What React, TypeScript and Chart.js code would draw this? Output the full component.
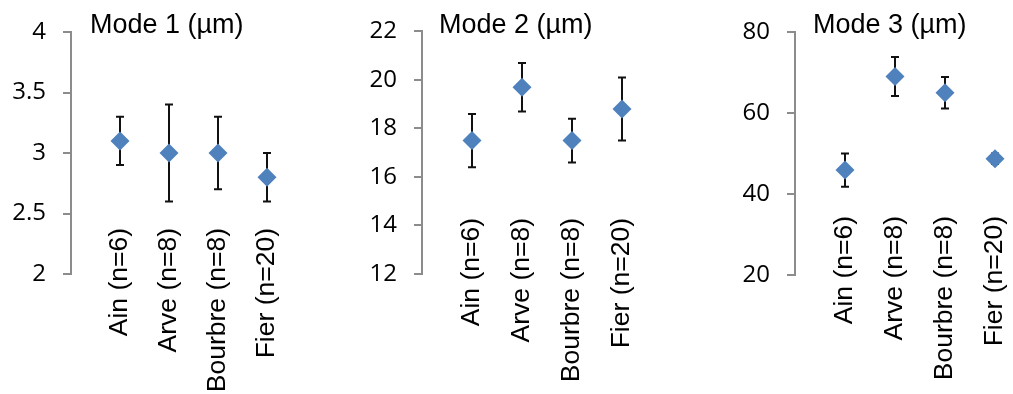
import React, { useEffect, useRef } from 'react';
import { Chart, registerables } from 'chart.js';

Chart.register(...registerables);

// ---------- data ----------
const categories = ['Ain (n=6)', 'Arve (n=8)', 'Bourbre (n=8)', 'Fier (n=20)'];

const mode1Title = 'Mode 1 (µm)';
const mode1Values = [3.1, 3.0, 3.0, 2.8];
const mode1Errors = [0.2, 0.4, 0.3, 0.2];
const mode1Ticks = [2, 2.5, 3, 3.5, 4];

const mode2Title = 'Mode 2 (µm)';
const mode2Values = [17.5, 19.7, 17.5, 18.8];
const mode2Errors = [1.1, 1.0, 0.9, 1.3];
const mode2Ticks = [12, 14, 16, 18, 20, 22];

const mode3Title = 'Mode 3 (µm)';
const mode3Values = [45.9, 69.0, 65.0, 48.7];
const mode3Errors = [4.1, 4.8, 3.9, 1.3];
const mode3Ticks = [20, 40, 60, 80];

// ---------- layout / style ----------
const H = 394;
const MARKER = '#4F81BD';
const AXIS = '#8c8c8c';
const LABEL_FONT = "'Liberation Sans', Arial, sans-serif";
const TICK_FONT = "'Open Sans', sans-serif";

type PanelCfg = {
  title: string;
  values: number[];
  errors: number[];
  ticks: number[];
  left: number;
  width: number;
  axisWidth: number;
  top: number;
  bottom: number;
  padRight: number;
  labelTop: number;
  titleOffset: number;
};

const panels: PanelCfg[] = [
  { title: mode1Title, values: mode1Values, errors: mode1Errors, ticks: mode1Ticks,
    left: 0, width: 338, axisWidth: 71, top: 32, bottom: 274, padRight: 71, labelTop: 228, titleOffset: 19 },
  { title: mode2Title, values: mode2Values, errors: mode2Errors, ticks: mode2Ticks,
    left: 340, width: 335, axisWidth: 82, top: 31, bottom: 274, padRight: 53, labelTop: 218, titleOffset: 17 },
  { title: mode3Title, values: mode3Values, errors: mode3Errors, ticks: mode3Ticks,
    left: 675, width: 338, axisWidth: 120, top: 32, bottom: 275, padRight: 18, labelTop: 216, titleOffset: 18 },
];

function Panel({ cfg }: { cfg: PanelCfg }) {
  const ref = useRef<HTMLCanvasElement>(null);

  useEffect(() => {
    const canvas = ref.current!;
    const labels = ['', ...categories];
    const data = [null, ...cfg.values];
    const errs = [null, ...cfg.errors];

    const errorBars = {
      id: 'errorBars',
      beforeDatasetsDraw(chart: any) {
        const ctx = chart.ctx;
        const xs = chart.scales.x;
        const ys = chart.scales.y;
        ctx.save();
        ctx.strokeStyle = '#111';
        ctx.lineWidth = 2;
        for (let i = 0; i < data.length; i++) {
          const v = data[i];
          const e = errs[i];
          if (v == null || e == null) continue;
          const x = xs.getPixelForValue(i);
          const yt = ys.getPixelForValue(v + e);
          const yb = ys.getPixelForValue(v - e);
          ctx.beginPath();
          ctx.moveTo(x, yt);
          ctx.lineTo(x, yb);
          ctx.moveTo(x - 4, yt);
          ctx.lineTo(x + 4, yt);
          ctx.moveTo(x - 4, yb);
          ctx.lineTo(x + 4, yb);
          ctx.stroke();
        }
        ctx.restore();
      },
    };

    const textPlugin = {
      id: 'panelText',
      afterDraw(chart: any) {
        const ctx = chart.ctx;
        const xs = chart.scales.x;
        ctx.save();
        ctx.fillStyle = '#000';
        // title
        ctx.font = `27px ${LABEL_FONT}`;
        ctx.textAlign = 'left';
        ctx.textBaseline = 'alphabetic';
        ctx.fillText(cfg.title, chart.chartArea.left + cfg.titleOffset, 33);
        // rotated category labels
        ctx.font = `26.5px ${LABEL_FONT}`;
        ctx.textAlign = 'right';
        ctx.textBaseline = 'middle';
        labels.forEach((lab, i) => {
          if (!lab) return;
          const x = xs.getPixelForValue(i);
          ctx.save();
          ctx.translate(x, cfg.labelTop);
          ctx.rotate(-Math.PI / 2);
          ctx.fillText(lab, 0, 0);
          ctx.restore();
        });
        ctx.restore();
      },
    };

    const chart = new Chart(canvas, {
      type: 'line',
      data: {
        labels,
        datasets: [
          {
            data,
            showLine: false,
            pointStyle: 'rectRot',
            pointRadius: 9.5,
            pointHoverRadius: 9.5,
            pointBorderWidth: 0,
            pointBackgroundColor: MARKER,
            borderColor: MARKER,
            backgroundColor: MARKER,
            clip: false,
          } as any,
        ],
      },
      options: {
        responsive: false,
        animation: false,
        devicePixelRatio: 1,
        layout: { padding: { left: 0, right: cfg.padRight, top: cfg.top, bottom: 0 } },
        plugins: { legend: { display: false }, tooltip: { enabled: false }, title: { display: false } },
        scales: {
          x: {
            type: 'category',
            offset: false,
            grid: { display: false, drawTicks: false },
            border: { display: false },
            ticks: { display: false, autoSkip: false },
            afterFit(scale: any) {
              scale.height = H - cfg.bottom;
            },
          },
          y: {
            type: 'linear',
            min: cfg.ticks[0],
            max: cfg.ticks[cfg.ticks.length - 1],
            ticks: {
              stepSize: cfg.ticks[1] - cfg.ticks[0],
              padding: 17,
              color: '#000',
              font: { family: TICK_FONT, size: 24 },
              callback: (v: any) => String(v),
            },
            grid: {
              display: true,
              drawOnChartArea: false,
              drawTicks: true,
              tickLength: 8,
              color: AXIS,
              lineWidth: 2,
            },
            border: { display: true, color: AXIS, width: 2 },
            afterFit(scale: any) {
              scale.width = cfg.axisWidth;
            },
          },
        },
      } as any,
      plugins: [errorBars, textPlugin],
    });
    return () => chart.destroy();
  }, []);

  return (
    <canvas
      ref={ref}
      width={cfg.width}
      height={H}
      style={{ position: 'absolute', left: cfg.left, top: 0, width: cfg.width, height: H }}
    />
  );
}

export default function App() {
  return (
    <div style={{ position: 'absolute', left: 0, top: 0, width: 1013, height: H, background: '#fff', overflow: 'hidden' }}>
      {panels.map((p, i) => (
        <Panel key={i} cfg={p} />
      ))}
    </div>
  );
}
